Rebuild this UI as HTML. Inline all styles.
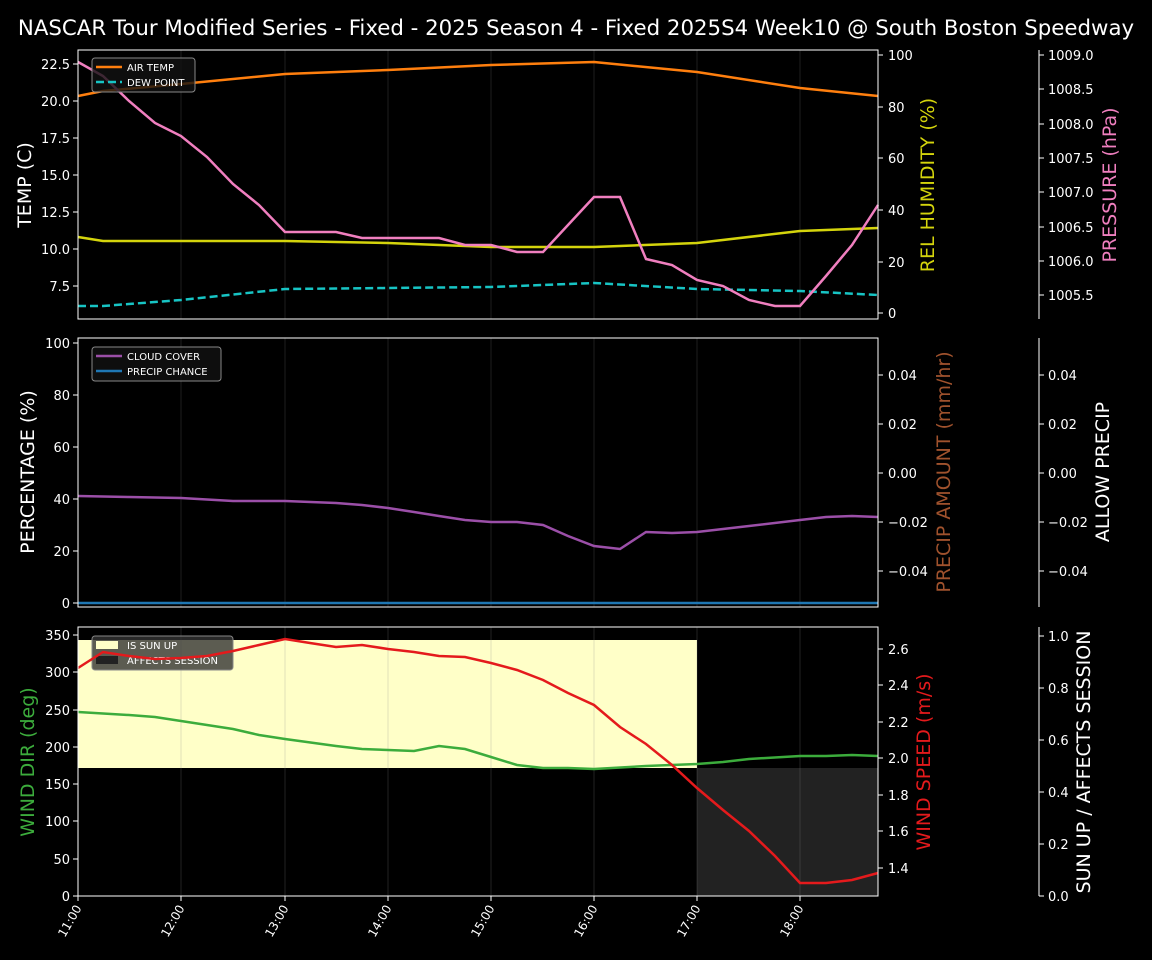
<!DOCTYPE html>
<html><head><meta charset="utf-8"><style>
html,body{margin:0;padding:0;background:#000;}
svg{display:block;font-family:"DejaVu Sans","Liberation Sans",sans-serif;}
</style></head><body>
<svg width="1152" height="960" viewBox="0 0 1152 960" xmlns="http://www.w3.org/2000/svg">
<rect width="1152" height="960" fill="#000"/>
<text x="576" y="35" fill="#fff" font-size="21.3" text-anchor="middle">NASCAR Tour Modified Series - Fixed - 2025 Season 4 - Fixed 2025S4 Week10 @ South Boston Speedway</text>

<g stroke="#333" stroke-width="1" opacity="0.6">
<path d="M181 50V319M285 50V319M388 50V319M491 50V319M594 50V319M697 50V319M800 50V319"/>
<path d="M181 338V607M285 338V607M388 338V607M491 338V607M594 338V607M697 338V607M800 338V607"/>
</g>

<!-- PANEL 1 -->
<polyline fill="none" stroke="#ff7f0e" stroke-width="2.5" points="78,96 103,91 181,84 285,74 388,70 491,65 594,62 697,72 800,88 878,96"/>
<polyline fill="none" stroke="#17c4c4" stroke-width="2.5" stroke-dasharray="8,4" points="78,306 103,306 181,300 285,289 388,288 491,287 594,283 697,289 800,291 878,295"/>
<polyline fill="none" stroke="#d4d40c" stroke-width="2.5" points="78,237 103,241 181,241 285,241 388,243 491,247 594,247 697,243 800,231 878,228"/>
<polyline fill="none" stroke="#f07fbf" stroke-width="2.5" points="78,62 103,76 129,101 155,123 181,136 207,157 233,184 259,205 285,232 310,232 336,232 362,238 388,238 414,238 439,238 465,245 491,245 517,252 543,252 568,225 594,197 620,197 646,259 672,265 697,280 723,286 749,300 775,306 800,306 826,276 852,245 878,205"/>
<rect x="78" y="50" width="800" height="269" fill="none" stroke="#fff" stroke-width="1"/>
<g fill="#fff" font-size="13" text-anchor="end">
<text x="70" y="69">22.5</text><text x="70" y="106">20.0</text><text x="70" y="143">17.5</text><text x="70" y="180">15.0</text><text x="70" y="217">12.5</text><text x="70" y="254">10.0</text><text x="70" y="291">7.5</text>
</g>
<g stroke="#fff"><path d="M73 64H78M73 101H78M73 138H78M73 175H78M73 212H78M73 249H78M73 286H78"/>
<path d="M878 55H883M878 107H883M878 158H883M878 210H883M878 262H883M878 313H883"/>
<path d="M1039 50V319M1039 55H1044M1039 89H1044M1039 124H1044M1039 158H1044M1039 192H1044M1039 227H1044M1039 261H1044M1039 295H1044"/></g>
<g fill="#fff" font-size="13">
<text x="888" y="60">100</text><text x="888" y="112">80</text><text x="888" y="163">60</text><text x="888" y="215">40</text><text x="888" y="267">20</text><text x="888" y="318">0</text>
<text x="1048" y="60">1009.0</text><text x="1048" y="94">1008.5</text><text x="1048" y="129">1008.0</text><text x="1048" y="163">1007.5</text><text x="1048" y="197">1007.0</text><text x="1048" y="232">1006.5</text><text x="1048" y="266">1006.0</text><text x="1048" y="300">1005.5</text>
</g>
<text transform="translate(31,185) rotate(-90)" fill="#fff" font-size="19" text-anchor="middle">TEMP (C)</text>
<text transform="translate(934,185) rotate(-90)" fill="#d4d40c" font-size="19" text-anchor="middle">REL HUMIDITY (%)</text>
<text transform="translate(1116,185) rotate(-90)" fill="#f07fbf" font-size="19" text-anchor="middle">PRESSURE (hPa)</text>
<rect x="92" y="58" width="103" height="34" rx="3" fill="#111" fill-opacity="0.8" stroke="#888"/>
<path d="M96 67H122" stroke="#ff7f0e" stroke-width="2.5"/><path d="M96 82H122" stroke="#17c4c4" stroke-width="2.5" stroke-dasharray="8,4"/>
<text x="127" y="71" fill="#fff" font-size="10">AIR TEMP</text><text x="127" y="86" fill="#fff" font-size="10">DEW POINT</text>

<!-- PANEL 2 -->
<polyline fill="none" stroke="#1f77b4" stroke-width="2.5" points="78,603 878,603"/>
<polyline fill="none" stroke="#9b4fa8" stroke-width="2.5" points="78,496 129,497 181,498 233,501 285,501 336,503 362,505 388,508 414,512 439,516 465,520 491,522 517,522 543,525 568,536 594,546 620,549 646,532 672,533 697,532 749,526 800,520 826,517 852,516 878,517"/>
<rect x="78" y="338" width="800" height="269" fill="none" stroke="#fff"/>
<g stroke="#fff"><path d="M73 343H78M73 395H78M73 447H78M73 499H78M73 551H78M73 603H78"/>
<path d="M878 375H883M878 424H883M878 473H883M878 522H883M878 571H883"/>
<path d="M1039 338V607M1039 375H1044M1039 424H1044M1039 473H1044M1039 522H1044M1039 571H1044"/></g>
<g fill="#fff" font-size="13" text-anchor="end">
<text x="70" y="348">100</text><text x="70" y="400">80</text><text x="70" y="452">60</text><text x="70" y="504">40</text><text x="70" y="556">20</text><text x="70" y="608">0</text>
</g>
<g fill="#fff" font-size="13">
<text x="888" y="380">0.04</text><text x="888" y="429">0.02</text><text x="888" y="478">0.00</text><text x="888" y="527">−0.02</text><text x="888" y="576">−0.04</text>
<text x="1048" y="380">0.04</text><text x="1048" y="429">0.02</text><text x="1048" y="478">0.00</text><text x="1048" y="527">−0.02</text><text x="1048" y="576">−0.04</text>
</g>
<text transform="translate(34,472) rotate(-90)" fill="#fff" font-size="19" text-anchor="middle">PERCENTAGE (%)</text>
<text transform="translate(950,472) rotate(-90)" fill="#a0522d" font-size="19" text-anchor="middle">PRECIP AMOUNT (mm/hr)</text>
<text transform="translate(1109,472) rotate(-90)" fill="#fff" font-size="19" text-anchor="middle">ALLOW PRECIP</text>
<rect x="92" y="347" width="129" height="34" rx="3" fill="#111" fill-opacity="0.8" stroke="#888"/>
<path d="M96 356H122" stroke="#9b4fa8" stroke-width="2.5"/><path d="M96 371H122" stroke="#1f77b4" stroke-width="2.5"/>
<text x="127" y="360" fill="#fff" font-size="10">CLOUD COVER</text><text x="127" y="375" fill="#fff" font-size="10">PRECIP CHANCE</text>

<!-- PANEL 3 -->
<rect x="78" y="640" width="619" height="128" fill="#ffffc8"/>
<rect x="697" y="768" width="181" height="128" fill="#222"/>
<g stroke="#888" stroke-width="1" opacity="0.25">
<path d="M181 627V896M285 627V896M388 627V896M491 627V896M594 627V896M697 627V896M800 627V896"/></g>
<rect x="92" y="636" width="141" height="34" rx="3" fill="#333" fill-opacity="0.8" stroke="#888"/>
<rect x="96" y="641" width="22" height="8" fill="#ffffc8"/><rect x="96" y="656" width="22" height="8" fill="#222"/>
<text x="127" y="649" fill="#fff" font-size="10">IS SUN UP</text><text x="127" y="664" fill="#fff" font-size="10">AFFECTS SESSION</text>
<polyline fill="none" stroke="#3cac3c" stroke-width="2.5" points="78,712 129,715 155,717 181,721 207,725 233,729 259,735 285,739 336,746 362,749 388,750 414,751 439,746 465,749 491,757 517,765 543,768 568,768 594,769 646,766 697,764 723,762 749,759 800,756 826,756 852,755 878,756"/>
<polyline fill="none" stroke="#e41a1c" stroke-width="2.5" points="78,668 103,652 129,656 155,659 181,658 207,656 233,651 259,645 285,639 310,643 336,647 362,645 388,649 414,652 439,656 465,657 491,663 517,670 543,680 568,693 594,705 620,727 646,744 672,765 697,788 723,810 749,831 775,856 800,883 826,883 852,880 878,873"/>
<rect x="78" y="627" width="800" height="269" fill="none" stroke="#fff"/>
<g stroke="#fff"><path d="M73 635H78M73 672H78M73 710H78M73 747H78M73 784H78M73 821H78M73 859H78M73 896H78"/>
<path d="M878 649H883M878 685H883M878 722H883M878 758H883M878 795H883M878 831H883M878 868H883"/>
<path d="M1039 627V896M1039 636H1044M1039 688H1044M1039 740H1044M1039 792H1044M1039 844H1044M1039 896H1044"/>
<path d="M78 896V901M181 896V901M285 896V901M388 896V901M491 896V901M594 896V901M697 896V901M800 896V901"/></g>
<g fill="#fff" font-size="13" text-anchor="end">
<text x="70" y="640">350</text><text x="70" y="677">300</text><text x="70" y="715">250</text><text x="70" y="752">200</text><text x="70" y="789">150</text><text x="70" y="826">100</text><text x="70" y="864">50</text><text x="70" y="901">0</text>
</g>
<g fill="#fff" font-size="13">
<text x="888" y="654">2.6</text><text x="888" y="690">2.4</text><text x="888" y="727">2.2</text><text x="888" y="763">2.0</text><text x="888" y="800">1.8</text><text x="888" y="836">1.6</text><text x="888" y="873">1.4</text>
<text x="1048" y="641">1.0</text><text x="1048" y="693">0.8</text><text x="1048" y="745">0.6</text><text x="1048" y="797">0.4</text><text x="1048" y="849">0.2</text><text x="1048" y="901">0.0</text>
</g>
<g fill="#fff" font-size="12" text-anchor="end">
<text transform="translate(82,908) rotate(-60)">11:00</text><text transform="translate(185,908) rotate(-60)">12:00</text><text transform="translate(289,908) rotate(-60)">13:00</text><text transform="translate(392,908) rotate(-60)">14:00</text><text transform="translate(495,908) rotate(-60)">15:00</text><text transform="translate(598,908) rotate(-60)">16:00</text><text transform="translate(701,908) rotate(-60)">17:00</text><text transform="translate(804,908) rotate(-60)">18:00</text>
</g>
<text transform="translate(34,762) rotate(-90)" fill="#3cac3c" font-size="19" text-anchor="middle">WIND DIR (deg)</text>
<text transform="translate(930,762) rotate(-90)" fill="#e41a1c" font-size="19" text-anchor="middle">WIND SPEED (m/s)</text>
<text transform="translate(1090,762) rotate(-90)" fill="#fff" font-size="19" text-anchor="middle">SUN UP / AFFECTS SESSION</text>
</svg>
</body></html>
